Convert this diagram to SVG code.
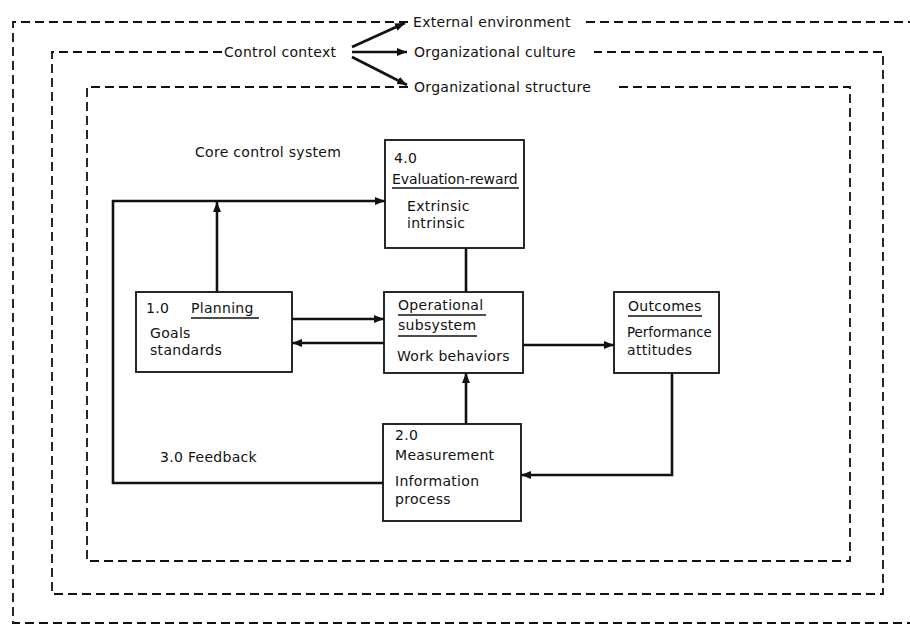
<svg xmlns="http://www.w3.org/2000/svg" width="910" height="626" viewBox="0 0 910 626">
<style>
text{font-family:"DejaVu Sans","Liberation Sans",sans-serif;font-size:14px;letter-spacing:0.3px;fill:#111}
.dash{fill:none;stroke:#111;stroke-width:1.8;stroke-dasharray:9 5}
.box{fill:#fff;stroke:#111;stroke-width:1.8}
.con{fill:none;stroke:#111;stroke-width:2.6}
.ul{stroke:#111;stroke-width:1.4}
.tight{font-size:13.4px;letter-spacing:0}
</style>
<defs>
<marker id="ah" markerUnits="userSpaceOnUse" markerWidth="10" markerHeight="8" refX="10" refY="4" orient="auto">
<path d="M0,0 L10,4 L0,8 z" fill="#111"/>
</marker>
</defs>
<rect width="910" height="626" fill="#fff"/>

<g id="context-frames">
<path class="dash" d="M408,22 H13 V623 H910"/>
<path class="dash" d="M586,22 H910"/>
<path class="dash" d="M222,52 H52 V594 H883 V52 H594"/>
<path class="dash" d="M408,87 H87 V561 H850 V87 H617"/>
</g>

<g id="context-labels">
<text x="413" y="27">External environment</text>
<text x="224" y="57">Control context</text>
<text x="414" y="57">Organizational culture</text>
<text x="414" y="92">Organizational structure</text>
<text x="195" y="157">Core control system</text>
<text x="160" y="462">3.0 Feedback</text>
</g>

<g id="connectors">
<path class="con" d="M352,47 L405,23" marker-end="url(#ah)"/>
<path class="con" d="M352,52 L407,52" marker-end="url(#ah)"/>
<path class="con" d="M352,57 L407,85" marker-end="url(#ah)"/>
<path class="con" d="M383,483 H113 V201 H385" marker-end="url(#ah)"/>
<path class="con" d="M217,292 V202" marker-end="url(#ah)"/>
<path class="con" d="M466,248 V292"/>
<path class="con" d="M292,319 H384" marker-end="url(#ah)"/>
<path class="con" d="M384,343 H292" marker-end="url(#ah)"/>
<path class="con" d="M523,345 H614" marker-end="url(#ah)"/>
<path class="con" d="M466,424 V373" marker-end="url(#ah)"/>
<path class="con" d="M672,373 V475 H521" marker-end="url(#ah)"/>
</g>

<g id="evaluation">
<rect class="box" x="385" y="140" width="139" height="108"/>
<text x="394" y="163">4.0</text>
<text x="392" y="184" textLength="126">Evaluation-reward</text>
<line class="ul" x1="392" y1="188" x2="519" y2="188"/>
<text x="407" y="211">Extrinsic</text>
<text x="407" y="228">intrinsic</text>
</g>

<g id="planning">
<rect class="box" x="136" y="292" width="156" height="80"/>
<text x="146" y="313">1.0</text>
<text x="191" y="313">Planning</text>
<line class="ul" x1="191" y1="318" x2="259" y2="318"/>
<text x="150" y="338">Goals</text>
<text x="150" y="355">standards</text>
</g>

<g id="operational">
<rect class="box" x="384" y="292" width="139" height="81"/>
<text x="398" y="310">Operational</text>
<line class="ul" x1="398" y1="315" x2="486" y2="315"/>
<text x="398" y="330">subsystem</text>
<line class="ul" x1="398" y1="336" x2="477" y2="336"/>
<text x="397" y="361">Work behaviors</text>
</g>

<g id="outcomes">
<rect class="box" x="614" y="292" width="105" height="81"/>
<text x="628" y="311">Outcomes</text>
<line class="ul" x1="628" y1="316" x2="702" y2="316"/>
<text class="tight" x="627" y="337">Performance</text>
<text x="627" y="355">attitudes</text>
</g>

<g id="measurement">
<rect class="box" x="383" y="424" width="138" height="97"/>
<text x="395" y="440">2.0</text>
<text x="395" y="460">Measurement</text>
<text x="395" y="486">Information</text>
<text x="395" y="504">process</text>
</g>
</svg>
